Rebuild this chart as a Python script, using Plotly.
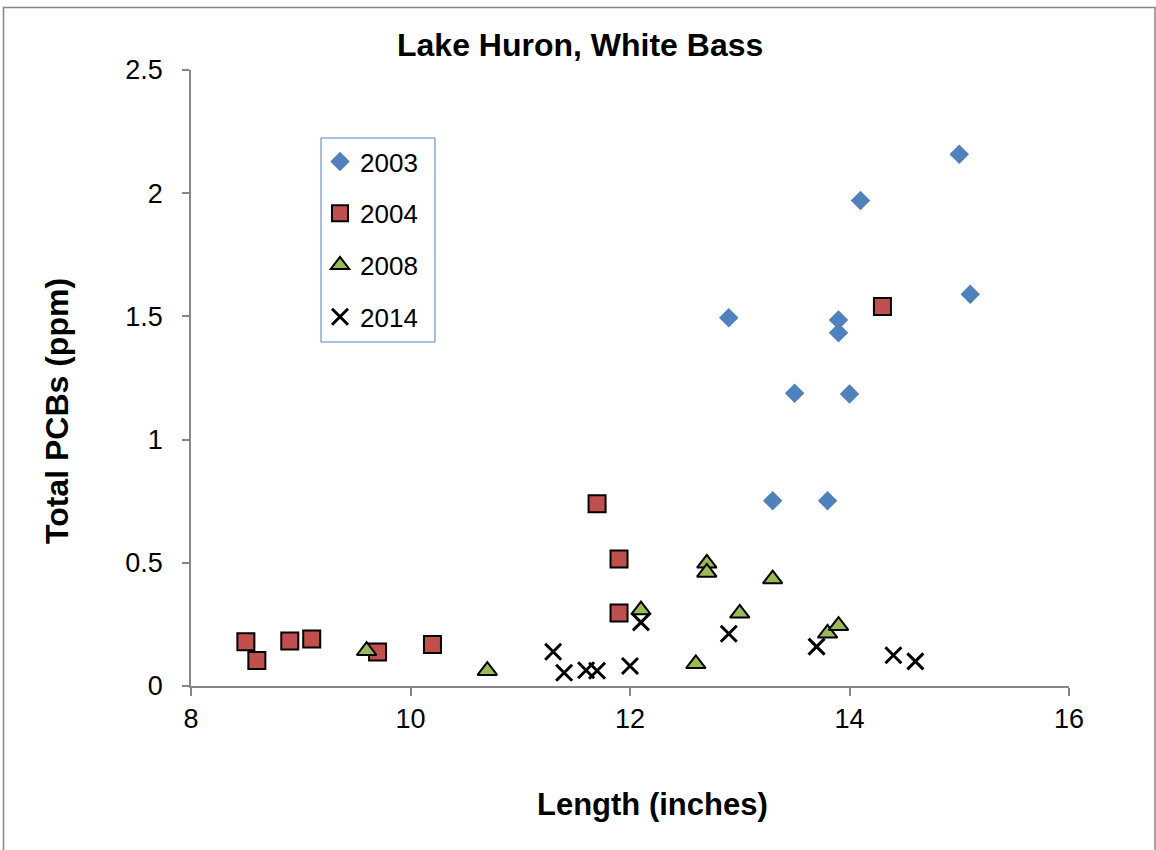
import plotly.graph_objects as go

# ---- data ----
len_2003 = [12.9, 13.3, 13.5, 13.8, 13.9, 13.9, 14.0, 14.1, 15.0, 15.1]
pcb_2003 = [1.495, 0.752, 1.188, 0.752, 1.485, 1.434, 1.185, 1.97, 2.158, 1.59]

len_2004 = [8.5, 8.6, 8.9, 9.1, 9.7, 10.2, 11.7, 11.9, 11.9, 14.3]
pcb_2004 = [0.180, 0.103, 0.183, 0.191, 0.138, 0.168, 0.740, 0.515, 0.296, 1.54]

len_2008 = [9.6, 10.7, 12.1, 12.7, 12.7, 13.3, 13.0, 12.6, 13.8, 13.9]
pcb_2008 = [0.143, 0.062, 0.308, 0.498, 0.461, 0.434, 0.295, 0.090, 0.214, 0.245]

len_2014 = [11.3, 11.4, 11.6, 11.7, 12.0, 12.1, 12.9, 13.7, 14.4, 14.6]
pcb_2014 = [0.139, 0.054, 0.064, 0.062, 0.081, 0.258, 0.212, 0.160, 0.125, 0.100]

series_names = ["2003", "2004", "2008", "2014"]
x_ticks = [8, 10, 12, 14, 16]
y_ticks = [0, 0.5, 1, 1.5, 2, 2.5]

FONT = "Liberation Sans, Arial, sans-serif"
AXIS_GRAY = "#868686"

fig = go.Figure()
fig.add_trace(go.Scatter(
    x=len_2003, y=pcb_2003, mode="markers", name=series_names[0], legendgroup="a",
    marker=dict(symbol="diamond", size=15, color="#4F81BD", line=dict(width=0))))
fig.add_trace(go.Scatter(
    x=len_2004, y=pcb_2004, mode="markers", name=series_names[1], legendgroup="b",
    marker=dict(symbol="square", size=17, color="#C0504D", line=dict(width=2, color="black"))))
fig.add_trace(go.Scatter(
    x=len_2008, y=pcb_2008, mode="markers", name=series_names[2], legendgroup="c",
    marker=dict(symbol="triangle-up", size=17, color="#9BBB59", line=dict(width=2, color="black"))))
fig.add_trace(go.Scatter(
    x=len_2014, y=pcb_2014, mode="markers", name=series_names[3], legendgroup="d",
    marker=dict(symbol="x-thin", size=16, color="black", line=dict(width=3, color="black"))))

L, R, T, B = 191, 87, 70, 164
W, H = 1156, 850
pw, ph = W - L - R, H - T - B

def px_x(p):
    return (p - L) / pw

def px_y(p):
    return (H - B - p) / ph

fig.update_layout(
    width=W, height=H,
    margin=dict(l=L, r=R, t=T, b=B, pad=0),
    paper_bgcolor="white", plot_bgcolor="white",
    font=dict(family=FONT, color="black", size=27),
    showlegend=True,
    legend=dict(
        x=px_x(320), y=px_y(138), xanchor="left", yanchor="top",
        bgcolor="rgba(0,0,0,0)", borderwidth=0,
        font=dict(family=FONT, size=26, color="black"),
        tracegroupgap=15, traceorder="grouped",
    ),
    xaxis=dict(
        range=[8, 16], tickmode="array", tickvals=x_ticks,
        showgrid=False, zeroline=False, showline=True, linecolor=AXIS_GRAY, linewidth=1.5,
        ticks="outside", ticklen=8, tickwidth=1.5, tickcolor=AXIS_GRAY,
        tickfont=dict(family=FONT, size=27, color="black"),
    ),
    yaxis=dict(
        range=[0, 2.5], tickmode="array", tickvals=y_ticks,
        showgrid=False, zeroline=False, showline=True, linecolor=AXIS_GRAY, linewidth=1.5,
        ticks="outside", ticklen=7, tickwidth=1.5, tickcolor=AXIS_GRAY,
        tickfont=dict(family=FONT, size=27, color="black"),
        ticklabelstandoff=14,
    ),
    shapes=[
        dict(type="rect", xref="paper", yref="paper",
             x0=px_x(3.5), x1=px_x(1155), y0=px_y(870), y1=px_y(7.5),
             line=dict(color=AXIS_GRAY, width=1.5), fillcolor="rgba(0,0,0,0)", layer="below"),
        dict(type="rect", xref="paper", yref="paper",
             x0=px_x(321), x1=px_x(435), y0=px_y(342), y1=px_y(138),
             line=dict(color="#4F81BD", width=1), fillcolor="white", layer="below"),
    ],
    annotations=[
        dict(text="<b>Lake Huron, White Bass</b>", xref="paper", yref="paper",
             x=px_x(580), y=px_y(45), xanchor="center", yanchor="middle", showarrow=False,
             font=dict(family=FONT, size=32, color="black")),
        dict(text="<b>Total PCBs (ppm)</b>", xref="paper", yref="paper",
             x=px_x(57), y=px_y(411), xanchor="center", yanchor="middle", showarrow=False,
             textangle=-90, font=dict(family=FONT, size=32, color="black")),
        dict(text="<b>Length (inches)</b>", xref="paper", yref="paper",
             x=px_x(652), y=px_y(804), xanchor="center", yanchor="middle", showarrow=False,
             font=dict(family=FONT, size=31, color="black")),
    ],
)

fig.write_html(
    "out.html",
    config={"displayModeBar": False},
    post_script="document.body.style.margin='0';document.documentElement.style.overflow='hidden';",
)
